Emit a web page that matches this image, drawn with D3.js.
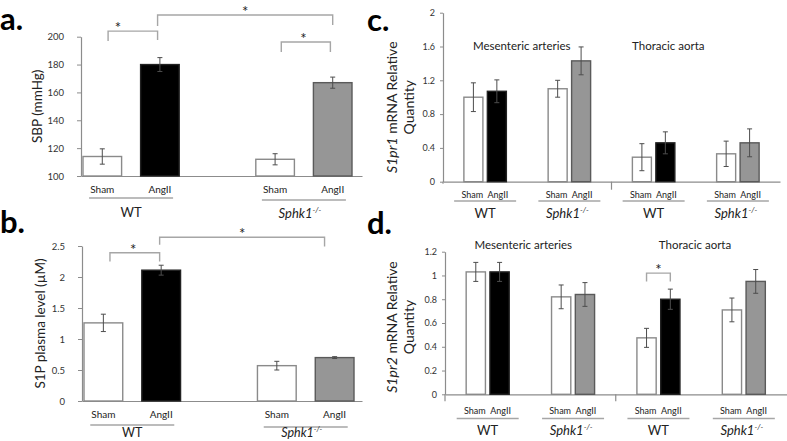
<!DOCTYPE html>
<html><head><meta charset="utf-8">
<script src="https://cdn.jsdelivr.net/npm/d3@7"></script>
<style>
html,body{margin:0;padding:0;background:#fff;}
text{font-family:Lato,"Open Sans",sans-serif;fill:#222;}
</style></head>
<body><svg id="fig" width="787" height="441"></svg>
<script>
// ---------------- DATA ----------------
// Panel a: systolic blood pressure
const sbpSlots = ["WT Sham","WT AngII","","Sphk1 Sham","Sphk1 AngII"];
const sbpBars = ["WT Sham","WT AngII","Sphk1 Sham","Sphk1 AngII"];
const sbpValues = [114, 180, 112, 167];
const sbpErrors = [5.5, 5, 4, 4];
const sbpTicks = [100, 120, 140, 160, 180, 200];

// Panel b: plasma S1P
const s1pSlots = ["WT Sham","WT AngII","","Sphk1 Sham","Sphk1 AngII"];
const s1pBars = ["WT Sham","WT AngII","Sphk1 Sham","Sphk1 AngII"];
const s1pValues = [1.26, 2.11, 0.57, 0.70];
const s1pErrors = [0.14, 0.08, 0.07, 0.015];
const s1pTicks = [0, 0.5, 1, 1.5, 2, 2.5];

// Panels c/d: tissue mRNA
const tissueGroups = ["Mes WT","Mes Sphk1","Tho WT","Tho Sphk1"];
const treatments = ["Sham","AngII"];
const s1pr1Values = [[1.00, 1.07],[1.10, 1.43],[0.29, 0.46],[0.33, 0.46]];
const s1pr1Errors = [[0.17, 0.135],[0.10, 0.165],[0.16, 0.13],[0.15, 0.165]];
const s1pr1Ticks = [0, 0.4, 0.8, 1.2, 1.6, 2];
const s1pr2Values = [[1.03, 1.03],[0.82, 0.84],[0.475, 0.80],[0.71, 0.95]];
const s1pr2Errors = [[0.08, 0.08],[0.10, 0.10],[0.08, 0.085],[0.10, 0.10]];
const s1pr2Ticks = [0, 0.2, 0.4, 0.6, 0.8, 1, 1.2];
const tissueNames = ["Mesenteric arteries","Thoracic aorta"];

// significance brackets (data units)
const sbpBrackets = [
  {from:"WT Sham", fdx:0.15, to:"WT AngII", tdx:-0.06, top:204, lb:197, rb:197.6, star:0.2},
  {from:"WT AngII", fdx:-0.06, to:"Sphk1 AngII", tdx:0, top:215.6, lb:207.7, rb:208.4, star:0.5},
  {from:"Sphk1 Sham", fdx:0.16, to:"Sphk1 AngII", tdx:-0.06, top:196.2, lb:189, rb:189, star:0.45}
];
const s1pBrackets = [
  {from:"WT Sham", fdx:0.17, to:"WT AngII", tdx:-0.04, top:2.39, lb:2.25, rb:2.25, star:0.47},
  {from:"WT AngII", fdx:-0.04, to:"Sphk1 AngII", tdx:-0.26, top:2.64, lb:2.52, rb:2.49, star:0.5}
];
const s1pr2Brackets = [
  {group:"Tho WT", top:1.02, lb:0.95, rb:0.95}
];

// ---------------- DRAW ----------------
const svg = d3.select("#fig");
const AXIS = "#8c8c8c", LINEC = "#a6a6a6", ERR = "#4d4d4d";
const fills = {Sham:"#ffffff", WT:"#000000", KO:"#969696"};
const strokes = {Sham:"#8a8a8a", WT:"#222222", KO:"#5a5a5a"};

function fmt(v){ return d3.format("~g")(v); }

function yAxisDraw(g, y, ticks, x0, tickLen, pad, fs){
  const ax = d3.axisLeft(y).tickValues(ticks).tickSize(tickLen).tickSizeOuter(0)
    .tickPadding(pad).tickFormat(fmt);
  const gg = g.append("g").attr("transform",`translate(${x0},0)`).call(ax);
  gg.select(".domain").attr("stroke",AXIS).attr("stroke-width",1.2);
  gg.selectAll(".tick line").attr("stroke",AXIS);
  gg.selectAll(".tick text").attr("font-size",fs).attr("font-family","Lato, sans-serif").style("fill","#333");
  return gg;
}

function xAxisLine(g, x0, x1, yPix){
  const s = d3.scaleLinear().domain([0,1]).range([x0,x1]);
  const gg = g.append("g").attr("transform",`translate(0,${yPix})`)
    .call(d3.axisBottom(s).tickValues([]).tickSizeOuter(0));
  gg.select(".domain").attr("stroke",AXIS).attr("stroke-width",1.2);
}

function rotLabel(g, x, y, parts, fs){
  const t = g.append("text").attr("transform",`translate(${x},${y}) rotate(-90)`)
    .attr("text-anchor","middle").attr("font-size",fs);
  parts.forEach(p=>t.append("tspan").attr("font-style",p.i?"italic":"normal").text(p.t));
}

function koLabel(g, x, y, fs){
  const t = g.append("text").attr("x",x).attr("y",y).attr("text-anchor","middle").attr("font-size",fs);
  t.append("tspan").attr("font-style","italic").text("Sphk1");
  t.append("tspan").attr("font-style","italic").attr("font-size",fs*0.6).attr("dy",-fs*0.4).text("-/-");
}

function drawBar(g, x, w, y, v, e, kind){
  g.append("rect").attr("x",x).attr("width",w).attr("y",y(v)).attr("height",y(y.domain()[0])-y(v))
    .attr("fill",fills[kind]).attr("stroke",strokes[kind]).attr("stroke-width",1.4);
  const cx = x + w/2;
  g.append("line").attr("x1",cx).attr("x2",cx).attr("y1",y(v+e)).attr("y2",y(v-e)).attr("stroke",ERR).attr("stroke-width",1);
  [v+e, v-e].forEach(q=>g.append("line").attr("x1",cx-2.5).attr("x2",cx+2.5).attr("y1",y(q)).attr("y2",y(q)).attr("stroke",ERR).attr("stroke-width",1));
}

function bracket(g, xa, xb, y, b, starFrac){
  g.append("path").attr("d",`M${xa},${y(b.lb)}V${y(b.top)}H${xb}V${y(b.rb)}`)
    .attr("fill","none").attr("stroke",LINEC).attr("stroke-width",1.4);
  g.append("text").attr("x",xa+(xb-xa)*starFrac).attr("y",y(b.top)+2).attr("text-anchor","middle")
    .attr("font-size",15).text("*");
}

function panelLetter(x, y, s){
  svg.append("text").attr("x",x).attr("y",y).attr("font-size",31).attr("font-weight",700)
    .attr("font-family","Lato, sans-serif").style("fill","#000").text(s);
}

// ---- Panel a & b (simple bar panels) ----
function simplePanel(o){
  const g = svg.append("g");
  const y = d3.scaleLinear().domain(o.domain).range([o.yBot, o.yTop]);
  const x = d3.scaleBand().domain(o.slots).range(o.band).paddingInner(0.33).paddingOuter(0);
  yAxisDraw(g, y, o.ticks, o.x0, 4, 13, 9.5);
  xAxisLine(g, o.x0, o.x1, o.yBot);
  o.bars.forEach((k,i)=>{
    const kind = i%2===0 ? "Sham" : (i<2 ? "WT" : "KO");
    drawBar(g, x(k), x.bandwidth(), y, o.values[i], o.errors[i], kind);
  });
  o.brackets.forEach(b=>{
    const xa = x(b.from)+x.bandwidth()*(0.5+b.fdx), xb = x(b.to)+x.bandwidth()*(0.5+b.tdx);
    bracket(g, xa, xb, y, b, b.star);
  });
  o.bars.forEach((k,i)=>{
    g.append("text").attr("x",x(k)+x.bandwidth()/2).attr("y",o.labY).attr("text-anchor","middle")
      .attr("font-size",10).text(i%2===0?"Sham":"AngII");
  });
  [[0,1],[2,3]].forEach((pr,gi)=>{
    const mid = (x(o.bars[pr[0]])+x(o.bars[pr[1]])+x.bandwidth())/2;
    g.append("line").attr("x1",mid-42).attr("x2",mid+42).attr("y1",o.ulY[gi]).attr("y2",o.ulY[gi])
      .attr("stroke",LINEC).attr("stroke-width",1.4);
    if(gi===0) g.append("text").attr("x",mid).attr("y",o.grpY[0]).attr("text-anchor","middle").attr("font-size",o.grpFs).text("WT");
    else koLabel(g, mid-4, o.grpY[1], o.grpFs);
  });
  rotLabel(g, o.titleX, (o.yTop+o.yBot)/2, o.title, 13.5);
}

simplePanel({slots:sbpSlots, bars:sbpBars, values:sbpValues, errors:sbpErrors, ticks:sbpTicks,
  domain:[100,200], yTop:36.7, yBot:176, x0:81, x1:362, band:[83,352], brackets:sbpBrackets,
  labY:193, ulY:[198,200], grpY:[217,218], grpFs:13, titleX:42, title:[{t:"SBP (mmHg)"}]});

simplePanel({slots:s1pSlots, bars:s1pBars, values:s1pValues, errors:s1pErrors, ticks:s1pTicks,
  domain:[0,2.5], yTop:246, yBot:401, x0:82, x1:362, band:[84,354], brackets:s1pBrackets,
  labY:418, ulY:[425,427], grpY:[437,437], grpFs:12.5, titleX:45, title:[{t:"S1P plasma level (µM)"}]});

// ---- Panels c & d ----
function tissuePanel(o){
  const g = svg.append("g");
  const y = d3.scaleLinear().domain(o.domain).range([o.yBot, o.yTop]);
  const gx = d3.scaleBand().domain(tissueGroups).range([o.x0, o.x1]).padding(0);
  const ix = d3.scaleBand().domain(treatments).range([0, gx.bandwidth()]).paddingInner(0.19).paddingOuter(0.89);
  yAxisDraw(g, y, o.ticks, o.x0, 3, 5, 9);
  xAxisLine(g, o.x0, o.x1, o.yBot);
  const midX = (o.x0+o.x1)/2;
  g.append("line").attr("x1",midX).attr("x2",midX).attr("y1",o.yBot).attr("y2",o.yBot+o.divLen).attr("stroke",AXIS).attr("stroke-width",1.2);
  g.append("line").attr("x1",o.x0).attr("x2",o.x0).attr("y1",o.yBot).attr("y2",o.yBot+o.leftLen).attr("stroke",AXIS).attr("stroke-width",1.2);
  tissueGroups.forEach((grp,gi)=>{
    treatments.forEach((t,ti)=>{
      const kind = ti===0 ? "Sham" : (gi%2===0 ? "WT" : "KO");
      drawBar(g, gx(grp)+ix(t), ix.bandwidth(), y, o.values[gi][ti], o.errors[gi][ti], kind);
      g.append("text").attr("x",gx(grp)+ix(t)+ix.bandwidth()/2+(ti===0?-1:1)).attr("y",o.labY)
        .attr("text-anchor","middle").attr("font-size",9).text(t);
    });
    const mid = gx(grp)+gx.bandwidth()/2;
    g.append("line").attr("x1",mid-31).attr("x2",mid+31).attr("y1",o.ulY).attr("y2",o.ulY)
      .attr("stroke",LINEC).attr("stroke-width",1.4);
    if(gi%2===0) g.append("text").attr("x",mid).attr("y",o.grpY).attr("text-anchor","middle").attr("font-size",13).text("WT");
    else koLabel(g, mid-2, o.grpY, 13);
  });
  tissueNames.forEach((n,i)=>{
    g.append("text").attr("x",o.nameX[i]).attr("y",o.nameY).attr("text-anchor","middle").attr("font-size",11.5).text(n);
  });
  o.brackets.forEach(b=>{
    const xa = gx(b.group)+ix("Sham")+ix.bandwidth()/2, xb = gx(b.group)+ix("AngII")+ix.bandwidth()/2;
    bracket(g, xa, xb, y, b, 0.5);
  });
  const cy = (o.yTop+o.yBot)/2 + o.titleDy;
  const t1 = g.append("text").attr("transform",`translate(${o.titleX},${cy}) rotate(-90)`).attr("text-anchor","middle").attr("font-size",14);
  t1.append("tspan").attr("font-style","italic").text(o.gene);
  t1.append("tspan").text(" mRNA Relative");
  g.append("text").attr("transform",`translate(${o.titleX+17},${cy}) rotate(-90)`).attr("text-anchor","middle").attr("font-size",14).text("Quantity");
}

tissuePanel({values:s1pr1Values, errors:s1pr1Errors, ticks:s1pr1Ticks, domain:[0,2],
  yTop:12.7, yBot:181.7, x0:443, x1:780, divLen:8, leftLen:2, labY:198, ulY:201, grpY:218,
  nameX:[521.7,668.3], nameY:50, brackets:[], titleX:397, titleDy:10, gene:"S1pr1"});

tissuePanel({values:s1pr2Values, errors:s1pr2Errors, ticks:s1pr2Ticks, domain:[0,1.2],
  yTop:251.7, yBot:394.3, x0:445, x1:786.5, divLen:7, leftLen:7, labY:414, ulY:418.5, grpY:435,
  nameX:[523.3,695], nameY:249, brackets:s1pr2Brackets, titleX:397, titleDy:4, gene:"S1pr2"});

panelLetter(0, 30, "a.");
panelLetter(0, 233, "b.");
panelLetter(367, 31, "c.");
panelLetter(367, 234, "d.");
</script></body></html>
